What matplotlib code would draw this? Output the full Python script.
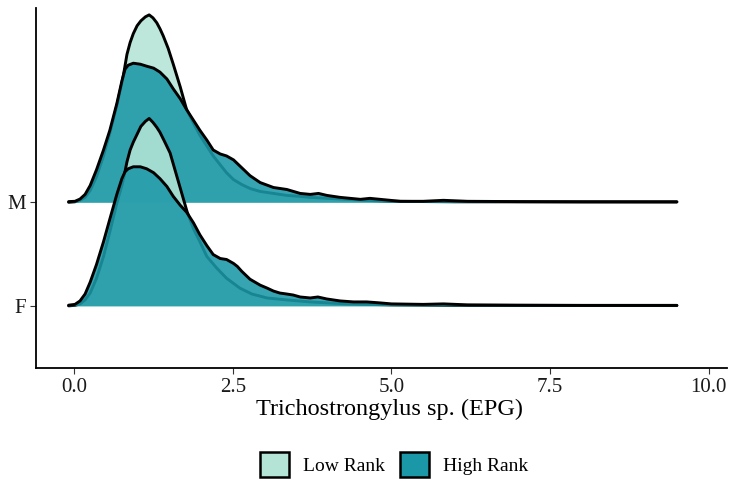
import matplotlib
matplotlib.use('Agg')
import matplotlib.pyplot as plt
from matplotlib.patches import Patch

plt.rcParams['font.family'] = ['Liberation Serif', 'DejaVu Serif']

# ridge heights (px-like units, 105 per row)
rows = ['F', 'M']
groups = ['Low Rank', 'High Rank']
ridge_scale = 1 / 105

m_low_x = [-0.09, 0.01, 0.09, 0.17, 0.25, 0.35, 0.46, 0.56, 0.67, 0.75, 0.78, 0.83, 0.88, 0.93,
           0.99, 1.05, 1.12, 1.18, 1.24, 1.30, 1.35, 1.40, 1.48, 1.56, 1.67, 1.77, 1.88, 1.98,
           2.09, 2.19, 2.30, 2.40, 2.51, 2.64, 2.77, 2.93, 3.14, 3.35, 3.56, 3.72, 4.00, 4.30,
           4.60, 5.00, 6.00, 9.50]
m_low_h = [0, 0.5, 2, 5, 12, 26, 47, 70, 98, 121, 131, 150, 162, 171,
           179, 184, 188, 190, 187, 182, 176, 169, 156, 140, 117, 94, 80, 68,
           57, 47, 38, 30, 23, 18, 14, 11, 9, 7, 6, 5, 4, 3,
           2, 1, 0.5, 0.3]

m_high_x = [-0.09, 0.01, 0.09, 0.17, 0.25, 0.35, 0.46, 0.56, 0.67, 0.75, 0.80, 0.85, 0.93, 1.04,
            1.14, 1.25, 1.35, 1.46, 1.56, 1.67, 1.77, 1.88, 1.98, 2.09, 2.19, 2.30, 2.40, 2.51,
            2.64, 2.77, 2.93, 3.14, 3.35, 3.56, 3.72, 3.85, 3.98, 4.19, 4.51, 4.66, 4.82, 5.14,
            5.50, 5.82, 6.20, 7.00, 8.00, 9.50]
m_high_h = [0.7, 1, 3.3, 8, 17, 33, 53, 73, 100, 123, 135, 139, 141, 140,
            138, 136, 132, 125, 115, 105, 94, 83, 73, 63, 53, 49, 47, 43,
            35, 27, 20, 15, 13, 9, 8, 9, 7, 5, 3, 4, 3, 1,
            1, 2, 1, 0.7, 0.5, 0.5]

f_low_x = [-0.09, 0.01, 0.09, 0.17, 0.25, 0.35, 0.46, 0.56, 0.67, 0.75, 0.78, 0.83, 0.88, 0.93,
           0.99, 1.05, 1.12, 1.18, 1.24, 1.30, 1.35, 1.42, 1.51, 1.60, 1.69, 1.78, 1.88, 1.98,
           2.09, 2.25, 2.40, 2.61, 2.80, 3.04, 3.35, 3.72, 4.30, 5.00, 6.00, 9.50]
f_low_h = [0, 0.5, 2, 6, 13, 28, 50, 75, 104, 122, 130, 146, 158, 166,
           174, 182, 187, 190, 186, 181, 176, 167, 155, 135, 115, 95, 78, 65,
           50, 38, 28, 18, 12, 8, 6, 4, 2, 1, 0.5, 0.3]

f_high_x = [-0.09, 0.01, 0.09, 0.17, 0.25, 0.35, 0.46, 0.56, 0.67, 0.75, 0.80, 0.85, 0.93, 1.04,
            1.14, 1.25, 1.35, 1.46, 1.56, 1.67, 1.77, 1.88, 1.98, 2.09, 2.19, 2.30, 2.40, 2.51,
            2.57, 2.64, 2.77, 2.93, 3.04, 3.14, 3.24, 3.35, 3.45, 3.56, 3.72, 3.84, 3.98, 4.19,
            4.40, 4.61, 4.82, 5.00, 5.50, 5.82, 6.20, 7.00, 8.00, 9.50]
f_high_h = [0.7, 1.5, 5, 12, 24, 42, 65, 88, 113, 129, 136, 139, 141, 141,
            139, 135, 129, 121, 111, 102, 95, 84, 72, 61, 52, 48, 47, 43,
            40, 35, 27, 21, 18, 15, 13, 12, 11, 9, 8, 9, 7, 5,
            4, 4, 3, 2, 1.5, 2, 1, 0.7, 0.5, 0.5]

xticks = [0.0, 2.5, 5.0, 7.5, 10.0]
colors = {'Low Rank': '#b3e4d5', 'High Rank': '#1b98a7'}

curves = {
    ('M', 'Low Rank'): (m_low_x, m_low_h),
    ('M', 'High Rank'): (m_high_x, m_high_h),
    ('F', 'Low Rank'): (f_low_x, f_low_h),
    ('F', 'High Rank'): (f_high_x, f_high_h),
}

fig = plt.figure(figsize=(7.34, 4.79), dpi=100)
ax = fig.add_axes([36 / 734, 1 - 368 / 479, 691 / 734, 360 / 479])

# top row first so lower rows overlap it, like ggridges
z = 2
for i, row in reversed(list(enumerate(rows))):
    base = i + 1
    for g in groups:
        xs, hs = curves[(row, g)]
        ys = [base + h * ridge_scale for h in hs]
        ax.fill_between(xs, base, ys, color=colors[g], alpha=0.88, lw=0, zorder=z)
        ax.plot(xs, ys, color='black', lw=2.1, solid_joinstyle='round',
                solid_capstyle='round', zorder=z + 0.5)
        z += 1

ax.set_xlim(-0.604, 10.29)
ax.set_ylim(0.4, 3.876)
ax.set_yticks([1, 2])
ax.set_yticklabels(rows)
ax.set_xticks(xticks)
ax.set_xticklabels(['%.1f' % t for t in xticks])
ax.tick_params(labelsize=15, length=4, color='#333333', labelcolor='#1a1a1a')
ax.set_xlabel('Trichostrongylus sp. (EPG)', fontsize=17.5)
ax.xaxis.set_label_coords(0.511, -0.086)
for s in ['top', 'right']:
    ax.spines[s].set_visible(False)
for s in ['left', 'bottom']:
    ax.spines[s].set_linewidth(1.3)
    ax.spines[s].set_zorder(20)

handles = [Patch(facecolor=colors[g], edgecolor='black', lw=1.8) for g in groups]
leg = fig.legend(handles, groups, loc='center', bbox_to_anchor=(0.537, 0.031), ncol=2,
                 frameon=False, fontsize=14, handlelength=1.5, handleheight=1.6,
                 columnspacing=0.8, handletextpad=0.7)

fig.savefig('out.png', dpi=100)
